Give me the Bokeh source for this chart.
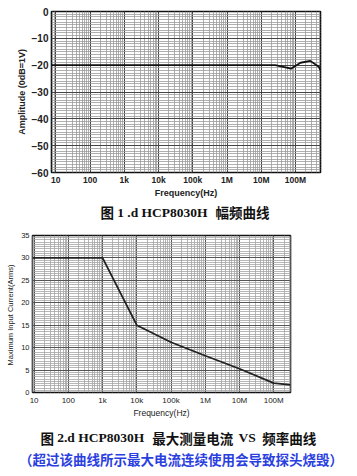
from bokeh.plotting import figure
from bokeh.models import Range1d, FixedTicker
from bokeh.layouts import column, row
from bokeh.embed import file_html
from bokeh.resources import INLINE
from bokeh.core.properties import value

# ---------------- data ----------------
freq_ticks = [10, 100, 1e3, 1e4, 1e5, 1e6, 1e7, 1e8]
freq_tick_labels = ["10", "100", "1k", "10k", "100k", "1M", "10M", "100M"]

# Figure 1: amplitude-frequency curve
amp_freq = [7.5, 2.6e7, 7.4e7, 1.4e8, 2.7e8, 4.8e8, 5.4e8]
amp_db = [-20, -20, -21.3, -19.1, -18.4, -20.6, -22.0]
amp_ticks = [-60, -50, -40, -30, -20, -10, 0]

# Figure 2: max input current vs frequency
cur_freq = [9, 1e3, 1e4, 1e5, 1e6, 1e7, 1e8, 3.1e8]
cur_amps = [30, 30, 15, 11.2, 8.2, 5.3, 2.1, 1.7]
cur_ticks = [0, 5, 10, 15, 20, 25, 30, 35]

title1_parts = ["图", "1 .d HCP8030H", "幅频曲线"]
title2_parts = ["图", "2.d HCP8030H", "最大测量电流", "VS", "频率曲线"]
note2 = "（超过该曲线所示最大电流连续使用会导致探头烧毁）"

CJK = "Noto Sans CJK SC"
SERIF = "Liberation Serif"
SANS = "Liberation Sans"

log_minor = [k * 10 ** d for d in range(0, 9) for k in range(2, 10)]
overrides = {t: l for t, l in zip(freq_ticks, freq_tick_labels)}


def style_axes(p, bold, xfs, yfs):
    for ax in (p.xaxis[0], p.yaxis[0]):
        ax.axis_line_color = None
        ax.major_tick_in = 0
        ax.major_tick_out = 0
        ax.minor_tick_in = 0
        ax.minor_tick_out = 0
        ax.major_label_text_font = SANS
        ax.axis_label_text_font = SANS
        ax.major_label_text_color = "#222222"
        ax.axis_label_text_color = "#222222"
        ax.axis_label_text_font_style = "bold" if bold else "normal"
        ax.major_label_text_font_style = "bold" if bold else "normal"
    p.xaxis[0].major_label_text_font_size = xfs
    p.yaxis[0].major_label_text_font_size = yfs
    p.xaxis[0].major_label_overrides = overrides
    p.outline_line_color = "#111111"
    p.outline_line_width = 1.6


# ---------------- figure 1 ----------------
p1 = figure(width=357, height=200, x_axis_type="log",
            x_range=Range1d(10 ** 0.875, 10 ** 8.73), y_range=Range1d(-60, 0),
            output_backend="svg", toolbar_location=None,
            min_border_left=51, min_border_right=37, min_border_top=11,
            min_border_bottom=28)
xt1 = FixedTicker(ticks=freq_ticks, minor_ticks=log_minor)
yt1 = FixedTicker(ticks=amp_ticks, minor_ticks=list(range(-60, 1)))
p1.xaxis[0].ticker = xt1
p1.xgrid[0].ticker = xt1
p1.yaxis[0].ticker = yt1
p1.ygrid[0].ticker = yt1
p1.xgrid.grid_line_color = "#444444"
p1.ygrid.grid_line_color = "#444444"
p1.xgrid.minor_grid_line_color = "#9a9a9a"
p1.ygrid.minor_grid_line_color = "#9a9a9a"
p1.xgrid.minor_grid_line_width = 0.8
p1.ygrid.minor_grid_line_width = 0.8
p1.xaxis.axis_label = "Frequency(Hz)"
p1.yaxis.axis_label = "Amplitude (0dB=1V)"
style_axes(p1, True, "8.5px", "10px")
p1.xaxis.axis_label_text_font_size = "9px"
p1.yaxis.axis_label_text_font_size = "9px"
p1.xaxis.major_label_standoff = 2
p1.yaxis.major_label_standoff = 3
p1.xaxis.axis_label_standoff = 0
p1.yaxis.axis_label_standoff = 2
p1.line(amp_freq, amp_db, line_color="#111111", line_width=1.8)

# ---------------- title 1 ----------------
t1 = figure(width=357, height=28, x_range=Range1d(0, 357), y_range=Range1d(28, 0),
            output_backend="svg", toolbar_location=None, min_border=0,
            x_axis_location=None, y_axis_location=None)
t1.grid.visible = False
t1.outline_line_color = None
t1_x = [100, 116.7, 215]
t1_f = [CJK, SERIF, CJK]
for s, x, f in zip(title1_parts, t1_x, t1_f):
    t1.text(x=[x], y=[11.7], text=[s], text_font=value(f), text_font_style="bold",
            text_font_size="13.5px", text_baseline="middle", text_align="left",
            text_color="#111111")

# ---------------- figure 2 ----------------
p2 = figure(width=357, height=192, x_axis_type="log",
            x_range=Range1d(10 ** 0.953, 10 ** 8.49), y_range=Range1d(0, 35),
            output_backend="svg", toolbar_location=None,
            min_border_left=32, min_border_right=67, min_border_top=7,
            min_border_bottom=24)
xt2 = FixedTicker(ticks=freq_ticks, minor_ticks=log_minor)
yt2 = FixedTicker(ticks=cur_ticks, minor_ticks=[i * 0.5 for i in range(0, 71)])
p2.xaxis[0].ticker = xt2
p2.xgrid[0].ticker = xt2
p2.yaxis[0].ticker = yt2
p2.ygrid[0].ticker = yt2
p2.xgrid.grid_line_color = "#555555"
p2.ygrid.grid_line_color = "#555555"
p2.xgrid.minor_grid_line_color = "#a5a5a5"
p2.ygrid.minor_grid_line_color = "#a5a5a5"
p2.xgrid.minor_grid_line_width = 0.8
p2.ygrid.minor_grid_line_width = 0.8
p2.xaxis.axis_label = "Frequency(Hz)"
p2.yaxis.axis_label = "Maximum  Input Current(Arms)"
style_axes(p2, False, "8px", "7.5px")
p2.xaxis.axis_label_text_font_size = "8.5px"
p2.yaxis.axis_label_text_font_size = "7.5px"
p2.xaxis.major_label_standoff = 3
p2.yaxis.major_label_standoff = 3
p2.xaxis.axis_label_standoff = 0
p2.yaxis.axis_label_standoff = 3
p2.line(cur_freq, cur_amps, line_color="#222222", line_width=1.8)

# ---------------- title 2 ----------------
t2 = figure(width=357, height=56, x_range=Range1d(0, 357), y_range=Range1d(56, 0),
            output_backend="svg", toolbar_location=None, min_border=0,
            x_axis_location=None, y_axis_location=None)
t2.grid.visible = False
t2.outline_line_color = None
t2_x = [40, 56.7, 151.7, 238, 261.7]
t2_f = [CJK, SERIF, CJK, SERIF, CJK]
for s, x, f in zip(title2_parts, t2_x, t2_f):
    t2.text(x=[x], y=[17.3], text=[s], text_font=value(f), text_font_style="bold",
            text_font_size="13.5px", text_baseline="middle", text_align="left",
            text_color="#111111")
t2.text(x=[180.5], y=[38.3], text=[note2], text_font=value(CJK), text_font_style="bold",
        text_font_size="13.5px", text_baseline="middle", text_align="center",
        text_color="#2b3fe0")

layout = column(row(p1), row(t1), row(p2), row(t2), spacing=0)
open("out.html", "w").write(file_html(layout, INLINE))
